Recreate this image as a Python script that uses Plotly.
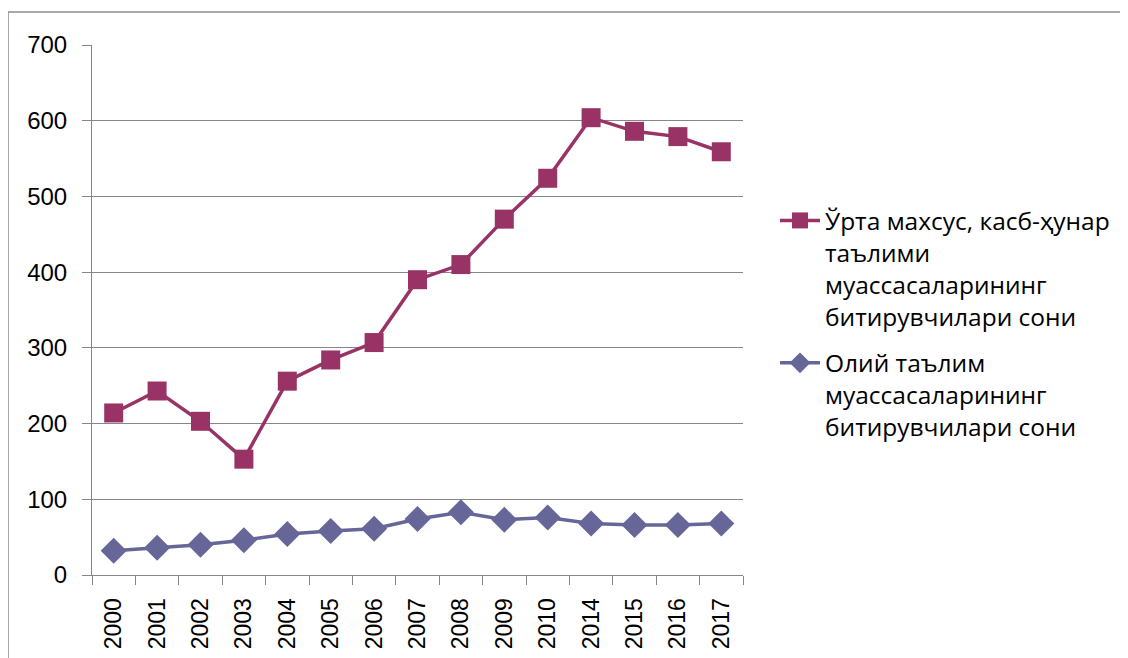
import plotly.graph_objects as go

years = ["2000", "2001", "2002", "2003", "2004", "2005", "2006", "2007",
         "2008", "2009", "2010", "2014", "2015", "2016", "2017"]
vocational = [214, 243, 203, 153, 256, 284, 307, 390, 410, 470, 524, 604, 586, 579, 559]
higher = [32, 36, 40, 46, 54, 58, 61, 74, 83, 73, 76, 68, 66, 66, 68]

name_voc = "Ўрта махсус, касб-ҳунар<br>таълими<br>муассасаларининг<br>битирувчилари сони"
name_high = "Олий таълим<br>муассасаларининг<br>битирувчилари сони"

c_voc = "#993366"
c_high = "#666699"
grid = "#868686"

fig = go.Figure()
fig.add_trace(go.Scatter(x=years, y=vocational, name=name_voc, mode="lines+markers",
                         legendgroup="a",
                         line=dict(color=c_voc, width=3.5),
                         marker=dict(symbol="square", size=19, color=c_voc)))
fig.add_trace(go.Scatter(x=years, y=higher, name=name_high, mode="lines+markers",
                         legendgroup="b",
                         line=dict(color=c_high, width=3.5),
                         marker=dict(symbol="diamond", size=20, color=c_high)))

OFF = 8  # page body margin
W, H = 1128 - OFF, 658 - OFF
L = 92 - OFF
T = 45 - OFF
B = H - (575 - OFF)
R = W - (743 - OFF)
pw, ph = W - L - R, H - T - B

def px(xs):
    return (xs - OFF - L) / pw

def py(ys):
    return (H - B - (ys - OFF)) / ph

fig.update_layout(
    width=W, height=H,
    margin=dict(l=L, r=R, t=T, b=B, autoexpand=False),
    paper_bgcolor="white", plot_bgcolor="white",
    font=dict(family="Liberation Sans, Arial, sans-serif", color="black", size=21),
    showlegend=True,
    legend=dict(x=px(775), y=py(198), xanchor="left", yanchor="top",
                font=dict(family="Open Sans, sans-serif", size=24.5, color="black"),
                traceorder="grouped", tracegroupgap=12, valign="top",
                itemwidth=40, bgcolor="rgba(0,0,0,0)"),
    xaxis=dict(type="category", tickangle=-90, tickson="boundaries",
               range=[-0.5, len(years) - 0.5],
               ticks="outside", ticklen=9, tickcolor=grid,
               showline=True, linecolor=grid, linewidth=1,
               showgrid=False, automargin=False,
               tickfont=dict(size=23), ticklabelstandoff=13),
    yaxis=dict(range=[0, 700], tick0=0, dtick=100, ticks="outside", ticklen=9,
               tickcolor=grid, showline=True, linecolor=grid, linewidth=1,
               showgrid=True, gridcolor=grid, gridwidth=1, zeroline=False,
               automargin=False,
               tickfont=dict(size=24), ticklabelstandoff=10),
    shapes=[dict(type="rect", xref="paper", yref="paper",
                 x0=px(8), x1=px(1140), y0=py(670), y1=py(12),
                 line=dict(color="#8c8c8c", width=1.5), layer="below")],
)

fig.write_html("out.html")
